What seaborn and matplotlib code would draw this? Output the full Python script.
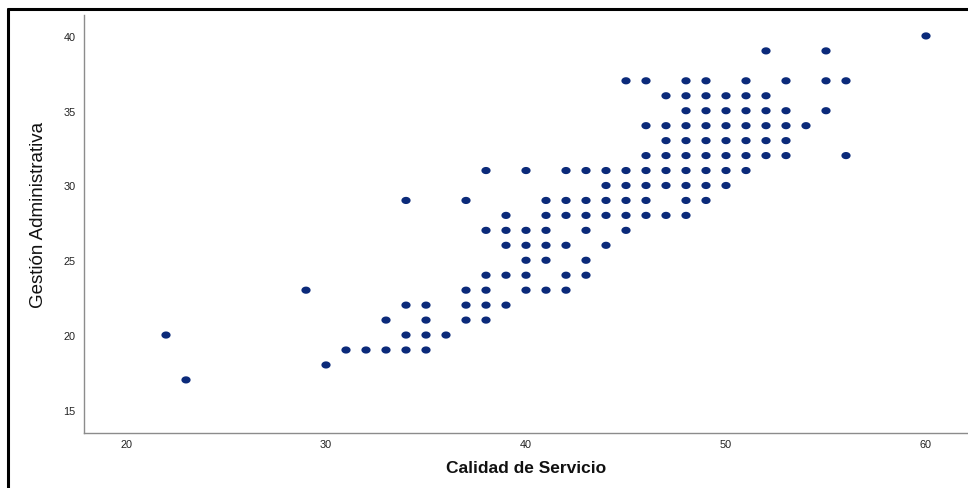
import matplotlib
matplotlib.use("Agg")
import matplotlib.pyplot as plt
from matplotlib.path import Path
from matplotlib.lines import Line2D
import numpy as np
import pandas as pd
import seaborn as sns

# Data, grouped by Gestión Administrativa level
calidad = (
    [60]
    + [52, 55]
    + [45, 46, 48, 49, 51, 53, 55, 56]
    + [47, 48, 49, 50, 51, 52]
    + [48, 49, 50, 51, 52, 53, 55]
    + [46, 47, 48, 49, 50, 51, 52, 53, 54]
    + [47, 48, 49, 50, 51, 52, 53]
    + [46, 47, 48, 49, 50, 51, 52, 53, 56]
    + [38, 40, 42, 43, 44, 45, 46, 47, 48, 49, 50, 51]
    + [44, 45, 46, 47, 48, 49, 50]
    + [34, 37, 41, 42, 43, 44, 45, 46, 48, 49]
    + [39, 41, 42, 43, 44, 45, 46, 47, 48]
    + [38, 39, 40, 41, 43, 45]
    + [39, 40, 41, 42, 44]
    + [40, 41, 43]
    + [38, 39, 40, 42, 43]
    + [29, 37, 38, 40, 41, 42]
    + [34, 35, 37, 38, 39]
    + [33, 35, 37, 38]
    + [22, 34, 35, 36]
    + [31, 32, 33, 34, 35]
    + [30]
    + [23]
)
gestion = (
    [40] * 1
    + [39] * 2
    + [37] * 8
    + [36] * 6
    + [35] * 7
    + [34] * 9
    + [33] * 7
    + [32] * 9
    + [31] * 12
    + [30] * 7
    + [29] * 10
    + [28] * 9
    + [27] * 6
    + [26] * 5
    + [25] * 3
    + [24] * 5
    + [23] * 6
    + [22] * 5
    + [21] * 4
    + [20] * 4
    + [19] * 5
    + [18] * 1
    + [17] * 1
)
x_ticks = [20, 30, 40, 50, 60]
y_ticks = [15, 20, 25, 30, 35, 40]
x_label = "Calidad de Servicio"
y_label = "Gestión Administrativa"

df = pd.DataFrame({x_label: calidad, y_label: gestion})

sns.set_theme(style="white")
plt.rcParams["font.family"] = ["Liberation Sans", "DejaVu Sans"]

fig = plt.figure(figsize=(9.68, 4.89), dpi=100)
ax = fig.add_axes([84 / 968, 1 - 434 / 489, 1 - 84 / 968, (434 - 16) / 489])

# elliptical marker (wider than tall)
t = np.linspace(0, 2 * np.pi, 40)
ellipse = Path(np.column_stack([np.cos(t), 0.78 * np.sin(t)]), closed=True)

sns.scatterplot(data=df, x=x_label, y=y_label, ax=ax, marker=ellipse,
                s=44, color="#0b2a7a", edgecolor="none", linewidth=0)

ax.set_xlim(17.9, 62.1)
ax.set_ylim(13.45, 41.4)
ax.set_xticks(x_ticks)
ax.set_yticks(y_ticks)
ax.tick_params(axis="both", length=0, labelsize=7.8, colors="#222222")
ax.tick_params(axis="x", pad=4)
ax.tick_params(axis="y", pad=6)

for side in ["top", "right"]:
    ax.spines[side].set_visible(False)
for side in ["left", "bottom"]:
    ax.spines[side].set_color("#8c8c8c")
    ax.spines[side].set_linewidth(1.0)

ax.set_xlabel(x_label, fontsize=12.5, fontweight="bold", color="#111111")
ax.set_ylabel(y_label, fontsize=13.5, color="#111111")
ax.xaxis.set_label_coords(0.5, (434 - 461) / 418)
ax.yaxis.set_label_coords((47 - 84) / 884, (434 - 215) / 418)
ax.grid(False)

# black frame from the screenshot (top and left edges)
fig.add_artist(Line2D([8 / 968, 1.0], [1 - 10 / 489, 1 - 10 / 489],
                      transform=fig.transFigure, color="black", linewidth=2.2))
fig.add_artist(Line2D([8 / 968, 8 / 968], [0, 1 - 10 / 489],
                      transform=fig.transFigure, color="black", linewidth=2.2))

fig.savefig("out.png", dpi=100)
